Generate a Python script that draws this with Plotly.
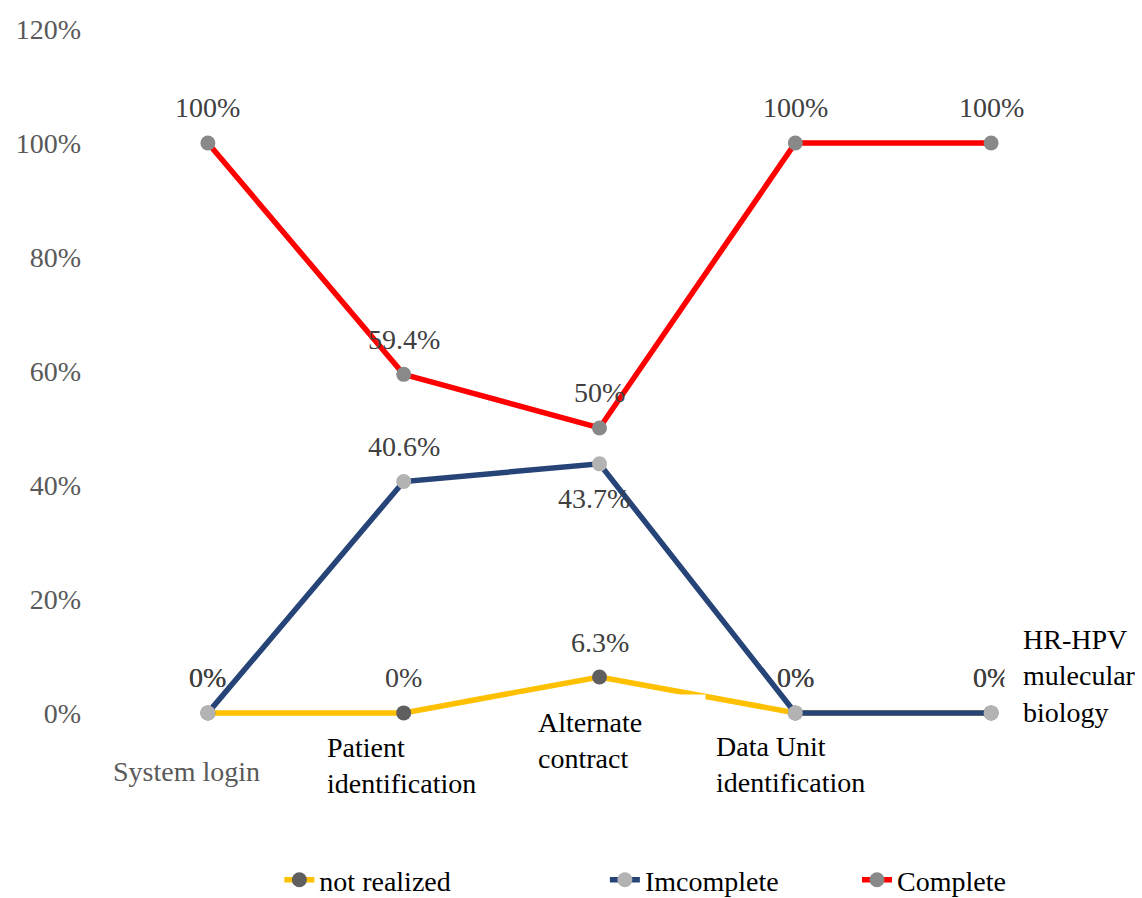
import plotly.graph_objects as go

# Workflow steps and share of records in each completion state (%)
categories = ["System login", "Patient identification", "Alternate contract",
              "Data Unit identification", "HR-HPV mulecular biology"]
not_realized = [0, 0, 6.3, 0, 0]
incomplete = [0, 40.6, 43.7, 0, 0]
complete = [100, 59.4, 50, 100, 100]
y_ticks = [0, 20, 40, 60, 80, 100, 120]

FONT = "Liberation Serif, Times New Roman, serif"
FS = 28

x_idx = list(range(len(categories)))


def pct(v):
    return f"{v:g}%"


# name, values, line colour, marker colour, label side per point (+1 above, -1 below), legend id
series = [
    ("not realized", not_realized, "#FFC000", "#5F5F5F", [1, 1, 1, 1, 1], "legend"),
    ("Imcomplete", incomplete, "#264478", "#B3B3B3", [1, 1, -1, 1, 1], "legend2"),
    ("Complete", complete, "#FF0000", "#898989", [1, 1, 1, 1, 1], "legend3"),
]

fig = go.Figure()
for name, vals, lc, mc, sides, leg in series:
    fig.add_trace(go.Scatter(
        x=x_idx, y=vals, name=name, mode="lines+markers",
        line=dict(color=lc, width=5.5),
        marker=dict(color=mc, size=15),
        cliponaxis=False, legend=leg,
    ))

# Value labels above / below each point
for name, vals, lc, mc, sides, leg in series:
    for i, (v, s) in enumerate(zip(vals, sides)):
        fig.add_annotation(
            x=i, y=v, xref="x", yref="y", text=pct(v), showarrow=False,
            xanchor="center", yanchor="middle",
            yshift=35 * s, xshift=0 if s > 0 else -6,
            font=dict(family=FONT, size=FS, color="#404040"),
        )

# Category labels: (x shift px, y shift px, anchor, colour, white box, pad, box width)
label_style = [
    (-21, -59, "center", "#595959", False, 0, None),
    (-78, -53, "left", "#000000", False, 0, None),
    (-82, -28, "left", "#000000", True, 12, 162),
    (-80, -52, "left", "#000000", False, 0, None),
    (13, 37, "left", "#000000", True, 18, None),
]
label_text = [
    "System login",
    "Patient<br>identification",
    "&nbsp;Alternate<br>&nbsp;contract",
    "Data Unit<br>identification",
    "HR-HPV<br>mulecular<br>biology",
]
for i, (txt, (dx, dy, anc, col, box, pad, w)) in enumerate(zip(label_text, label_style)):
    ann = dict(
        x=i, y=0, xref="x", yref="y", text=txt, showarrow=False,
        xanchor=anc, yanchor="middle", xshift=dx, yshift=dy,
        align="left", font=dict(family=FONT, size=FS, color=col),
        borderpad=pad,
    )
    if box:
        ann["bgcolor"] = "#FFFFFF"
    if w:
        ann["width"] = w
    fig.add_annotation(**ann)

legend_common = dict(
    orientation="h", yref="container", yanchor="middle", y=0.02, xanchor="left",
    font=dict(family=FONT, size=FS, color="#000000"),
    bgcolor="rgba(0,0,0,0)",
)

fig.update_layout(
    width=1142, height=898,
    margin=dict(l=110, r=53, t=29, b=168),
    plot_bgcolor="#FFFFFF", paper_bgcolor="#FFFFFF",
    showlegend=True,
    legend=dict(x=0.173, **legend_common),
    legend2=dict(x=0.5055, **legend_common),
    legend3=dict(x=0.763, **legend_common),
    xaxis=dict(range=[-0.5, 4.5], showticklabels=False, showgrid=False,
               zeroline=False, showline=False, ticks=""),
    yaxis=dict(range=[-3, 120], tickvals=y_ticks, ticktext=[f"{t}%" for t in y_ticks],
               showgrid=False, zeroline=False, showline=False, ticks="",
               ticklabelstandoff=28,
               tickfont=dict(family=FONT, size=FS, color="#595959")),
)

fig.write_html("out.html")
